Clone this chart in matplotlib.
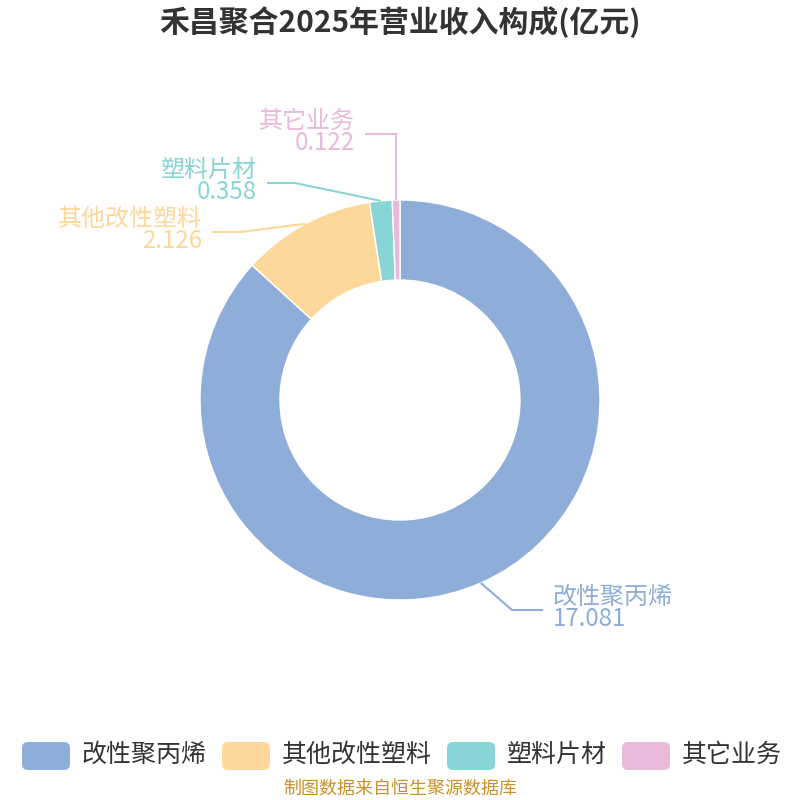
import numpy as np
import matplotlib
matplotlib.use("Agg")
import matplotlib.pyplot as plt
from matplotlib.patches import FancyBboxPatch

plt.rcParams['font.family'] = ['Noto Sans CJK SC', 'DejaVu Sans']

# ── Data ───────────────────────────────────────────────────────────────────────
categories = ["改性聚丙烯", "其他改性塑料", "塑料片材", "其它业务"]
values     = [17.081, 2.126, 0.358, 0.122]
colors     = ["#8eadd9", "#fed89a", "#87d5d7", "#e8b9d9"]
title      = "禾昌聚合2025年营业收入构成(亿元)"
source     = "制图数据来自恒生聚源数据库"

W = H = 800
CX, CY, R, R_IN = 400, 400, 200, 120


def Y(y):
    # pixel-from-top -> data y
    return H - y


fig = plt.figure(figsize=(8, 8), dpi=100)
ax = fig.add_axes([0, 0, 1, 1])

wedges, _ = ax.pie(values, colors=colors, startangle=90, counterclock=False,
                   radius=R, center=(CX, Y(CY)), frame=True,
                   wedgeprops=dict(width=R - R_IN, edgecolor="white", linewidth=1))
ax.set_xlim(0, W)
ax.set_ylim(0, H)
ax.set_aspect("equal")
ax.axis("off")

# label layout: (elbow x, elbow y, end x, text x, ha)   pixel coords from top
layout = [
    (512, 610, 543, 553, "left"),
    (240, 232, 212, 202, "right"),
    (295, 183, 267, 257, "right"),
    (396, 134, 365, 355, "right"),
]

for w, val, name, col, (ex, ey, endx, tx, ha) in zip(wedges, values, categories, colors, layout):
    mid = np.deg2rad((w.theta1 + w.theta2) / 2)
    px = CX + R * np.cos(mid)
    py = CY - R * np.sin(mid)
    ax.plot([px, ex, endx], [Y(py), Y(ey), Y(ey)], color=col, lw=1.5,
            solid_capstyle="butt")
    ax.text(tx, Y(ey - 2), f"{name}\n{val:.3f}", color=col, fontsize=17.3,
            ha=ha, va="center", multialignment=ha, linespacing=0.8)

fig.text(0.5, 1 - 22 / H, title, ha="center", va="center", fontsize=21.5,
         fontweight="bold", color="#333333")

# legend
leg_x = [22, 222, 447, 622]
for lx, name, col in zip(leg_x, categories, colors):
    box = FancyBboxPatch((lx, Y(770)), 48, 28, boxstyle="round,pad=0,rounding_size=6",
                         facecolor=col, edgecolor="none")
    ax.add_patch(box)
    ax.text(lx + 60, Y(755), name, fontsize=18, color="#333333", ha="left", va="center")

fig.text(0.5, 1 - 789 / H, source, ha="center", va="center", fontsize=13,
         color="#c8922a")

fig.savefig("out.png", dpi=100)
